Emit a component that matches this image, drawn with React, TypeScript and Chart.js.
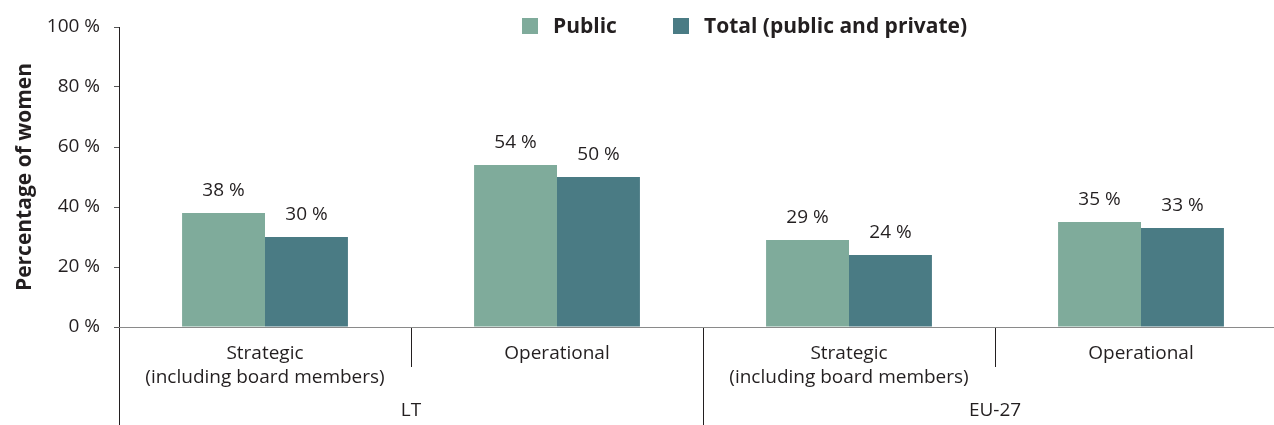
import React, { useEffect, useRef } from "react";
import { Chart, registerables } from "chart.js";

Chart.register(...registerables);

const categories: string[][] = [
  ["Strategic", "(including board members)"],
  ["Operational"],
  ["Strategic", "(including board members)"],
  ["Operational"],
];
const groups = ["LT", "EU-27"];
const groupSpans = [2, 2];
const seriesNames = ["Public", "Total (public and private)"];
const publicValues = [38, 54, 29, 35];
const totalValues = [30, 50, 24, 33];
const yTicks = [0, 20, 40, 60, 80, 100];
const yTitle = "Percentage of women";

const COLORS = ["#7FAB9B", "#4A7B84"];
const FONT = "'Open Sans', 'Noto Sans', sans-serif";
const TEXT = "#231F20";
const CANVAS_W = 1290;

const overlayPlugin = {
  id: "overlay",
  afterDraw(chart: any) {
    const ctx = chart.ctx;
    const x = chart.scales.x;
    const area = chart.chartArea;
    const H = chart.height;
    const n = chart.data.labels.length;
    const step = x.getPixelForValue(1) - x.getPixelForValue(0);
    const boundary = (i: number) => x.getPixelForValue(0) - step / 2 + i * step;
    ctx.save();
    ctx.strokeStyle = "#231F20";
    ctx.lineWidth = 1;
    let idx = 0;
    const groupStarts: number[] = [];
    groupSpans.forEach((s) => { groupStarts.push(idx); idx += s; });
    for (let i = 1; i < n; i++) {
      const isGroup = groupStarts.includes(i);
      const bx = Math.round(boundary(i)) + 0.5;
      ctx.beginPath();
      ctx.moveTo(bx, area.bottom);
      ctx.lineTo(bx, isGroup ? H : area.bottom + 40);
      ctx.stroke();
    }
    const lx = Math.round(area.left) + 0.5;
    ctx.beginPath();
    ctx.moveTo(lx, area.bottom);
    ctx.lineTo(lx, H);
    ctx.stroke();
    ctx.strokeStyle = "#8A8A8A";
    ctx.beginPath();
    ctx.moveTo(area.left, Math.round(area.bottom) + 0.5);
    ctx.lineTo(area.right, Math.round(area.bottom) + 0.5);
    ctx.stroke();
    ctx.fillStyle = TEXT;
    ctx.font = `19px ${FONT}`;
    ctx.textAlign = "center";
    ctx.textBaseline = "middle";
    groups.forEach((g, gi) => {
      const s = groupStarts[gi];
      const e = s + groupSpans[gi];
      const left = boundary(s);
      const right = boundary(e);
      ctx.fillText(g, (left + right) / 2, area.bottom + 84);
    });
    chart.data.datasets.forEach((ds: any, di: number) => {
      const meta = chart.getDatasetMeta(di);
      meta.data.forEach((bar: any, i: number) => {
        ctx.fillText(`${ds.data[i]} %`, bar.x, bar.y - 22);
      });
    });
    ctx.font = `bold 21px ${FONT}`;
    ctx.textAlign = "left";
    let lxp = 522;
    const ly = 26;
    chart.data.datasets.forEach((ds: any) => {
      ctx.fillStyle = ds.backgroundColor;
      ctx.fillRect(lxp, ly - 8, 16, 16);
      ctx.fillStyle = TEXT;
      ctx.fillText(ds.label, lxp + 31, ly + 1);
      lxp += 151;
    });
    ctx.restore();
  },
};

export default function App() {
  const ref = useRef<HTMLCanvasElement>(null);
  useEffect(() => {
    if (!ref.current) return;
    const chart = new Chart(ref.current, {
      type: "bar",
      data: {
        labels: categories,
        datasets: [
          { label: seriesNames[0], data: publicValues, backgroundColor: COLORS[0], barPercentage: 1, categoryPercentage: 0.568 },
          { label: seriesNames[1], data: totalValues, backgroundColor: COLORS[1], barPercentage: 1, categoryPercentage: 0.568 },
        ],
      },
      options: {
        animation: false,
        responsive: false,
        maintainAspectRatio: false,
        layout: { padding: { top: 27, right: 3, left: 0, bottom: 0 } },
        plugins: { legend: { display: false }, tooltip: { enabled: false } },
        scales: {
          x: {
            type: "category",
            offset: true,
            grid: { display: false },
            border: { display: false },
            ticks: { font: { family: FONT, size: 19, lineHeight: 1.3 }, color: TEXT, padding: 6, maxRotation: 0, autoSkip: false },
            afterFit: (s: any) => { s.height = 98; },
          },
          y: {
            min: 0,
            max: 100,
            afterBuildTicks: (s: any) => { s.ticks = yTicks.map((v) => ({ value: v })); },
            ticks: { callback: (v: any) => `${v} %`, font: { family: FONT, size: 19 }, color: TEXT, padding: 14 },
            grid: { drawOnChartArea: false, drawTicks: true, tickLength: 5, color: "#555" },
            border: { color: "#231F20" },
            title: { display: true, text: yTitle, font: { family: FONT, size: 21, weight: "bold" }, color: TEXT, padding: { top: 12, bottom: 0 } },
            afterFit: (s: any) => { s.width = 119; },
          },
        },
      },
      plugins: [overlayPlugin],
    });
    return () => chart.destroy();
  }, []);
  return (
    <div style={{ position: "absolute", left: 0, top: 0, width: 1274, height: 425, overflow: "hidden", background: "#fff" }}>
      <canvas ref={ref} width={CANVAS_W} height={425} />
    </div>
  );
}
